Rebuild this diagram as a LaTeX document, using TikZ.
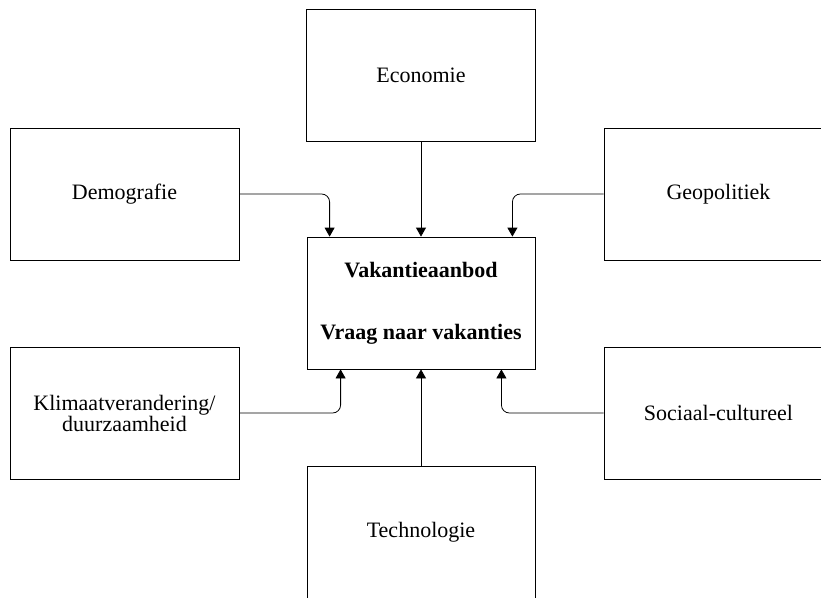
\documentclass[tikz,border=0pt]{standalone}
\usepackage{fontspec}
\setmainfont{Liberation Serif}
\usetikzlibrary{arrows.meta}

\begin{document}
\begin{tikzpicture}[x=1pt, y=-1pt,
    factor/.style={draw, line width=0.8pt, minimum width=229pt, minimum height=132pt,
        align=center, font=\fontsize{22}{21}\selectfont},
    link/.style={line width=0.8pt, rounded corners=8pt, -{Triangle[length=9pt, width=10pt]}}]
    \useasboundingbox (0,0) rectangle (821,597);
    \clip (0,0) rectangle (821,597);

    % Nodes
    \node[factor] (eco) at (421,75) {Economie};
    \node[factor] (demo) at (124.5,194) {Demografie};
    \node[factor] (geo) at (718.5,194) {Geopolitiek};
    \node[factor, minimum width=228pt] (vak) at (421,303) {\textbf{Vakantieaanbod}\\[41pt]\textbf{Vraag naar vakanties}};
    \node[factor] (klim) at (124.5,413) {Klimaatverandering/\\duurzaamheid};
    \node[factor] (soc) at (718.5,413) {Sociaal-cultureel};
    \node[factor, minimum width=228pt] (tech) at (421,532) {Technologie};

    % Lines
    \draw[link] (eco) -- (vak);
    \draw[link] (demo.east) -| ([xshift=23pt]vak.north west);
    \draw[link] (geo.west) -| ([xshift=-23pt]vak.north east);
    \draw[link] (tech) -- (vak);
    \draw[link] (klim.east) -| ([xshift=34pt]vak.south west);
    \draw[link] (soc.west) -| ([xshift=-34pt]vak.south east);

\end{tikzpicture}
\end{document}
